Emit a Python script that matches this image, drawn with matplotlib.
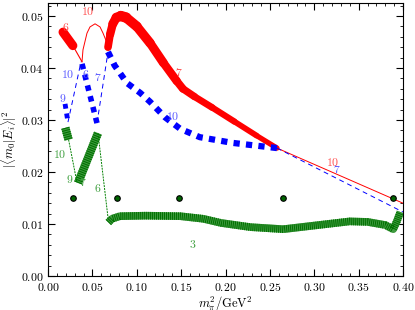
import numpy as np
import matplotlib
matplotlib.use("Agg")
import matplotlib.pyplot as plt
from matplotlib.collections import LineCollection
from matplotlib.ticker import MultipleLocator, FuncFormatter

plt.rcParams['mathtext.fontset'] = 'cm'
plt.rcParams['font.family'] = 'DejaVu Serif'

# red curve (state overlap 1)
red_thick_a_x = [0.0169, 0.028, 0.0383]
red_thick_a_y = [0.0469, 0.0443, 0.0412]
red_arc_x = [0.0383, 0.0394, 0.0439, 0.0473, 0.0530, 0.0586, 0.0620, 0.0665, 0.0676]
red_arc_y = [0.0412, 0.0435, 0.0467, 0.0479, 0.0485, 0.0479, 0.0467, 0.0448, 0.0440]
red_thick_b_x = [0.0676, 0.070, 0.073, 0.077, 0.082, 0.088, 0.100, 0.115, 0.130,
                 0.145, 0.152, 0.165, 0.185, 0.21, 0.235, 0.258]
red_thick_b_y = [0.0440, 0.0465, 0.0485, 0.0497, 0.0500, 0.0497, 0.0480, 0.0448, 0.0410,
                 0.0375, 0.0360, 0.0345, 0.0324, 0.0297, 0.0270, 0.0246]
red_tail_x = [0.258, 0.40]
red_tail_y = [0.0246, 0.0140]

# blue curve
blue_thick = [([0.0192, 0.0225], [0.0331, 0.0296]),
              ([0.0383, 0.0552], [0.0408, 0.0294]),
              ([0.0676, 0.075, 0.089, 0.104, 0.115, 0.132, 0.149, 0.171, 0.208, 0.258],
               [0.0431, 0.0405, 0.0371, 0.0352, 0.0335, 0.0305, 0.0283, 0.0267, 0.0256, 0.0246])]
blue_thin = [([0.0225, 0.0372], [0.0296, 0.0412]),
             ([0.0552, 0.0676], [0.0294, 0.0431]),
             ([0.258, 0.40], [0.0246, 0.0123])]

# green curve
green_thick = [([0.0195, 0.0232], [0.0285, 0.0262]),
               ([0.0338, 0.0563], [0.0179, 0.0275]),
               ([0.068, 0.072, 0.081, 0.11, 0.149, 0.175, 0.195, 0.228, 0.265,
                 0.30, 0.34, 0.36, 0.38, 0.389, 0.393, 0.397],
                [0.0103, 0.0110, 0.0115, 0.0116, 0.0115, 0.0110, 0.0102, 0.0094, 0.0090,
                 0.0097, 0.0105, 0.0104, 0.0098, 0.0090, 0.0105, 0.0123])]
green_thin = [([0.0232, 0.0327], [0.0262, 0.0179]),
              ([0.0563, 0.0676], [0.0275, 0.0112])]

# ensemble points
dots_x = [0.0282, 0.0777, 0.1476, 0.2648, 0.3887]
dots_y = [0.015, 0.015, 0.015, 0.015, 0.015]

# state labels: (x, y, text, colour)
labels = [
    (0.0203, 0.0477, '6', '#ff5050'), (0.045, 0.0508, '10', '#ff5050'),
    (0.147, 0.0392, '7', '#ff5050'),
    (0.0225, 0.0387, '10', '#5a5aff'), (0.043, 0.0387, '6', '#5a5aff'),
    (0.0563, 0.0381, '7', '#5a5aff'), (0.0169, 0.0342, '9', '#5a5aff'),
    (0.141, 0.0306, '10', '#5a5aff'), (0.3256, 0.0204, '7', '#5a5aff'),
    (0.321, 0.0219, '10', '#ff5050'),
    (0.0135, 0.0233, '10', '#40a040'), (0.0248, 0.0185, '9', '#40a040'),
    (0.0394, 0.0179, '7', '#40a040'), (0.0563, 0.0169, '6', '#40a040'),
    (0.163, 0.0060, '3', '#40a040'),
]


def tapered(ax, xs, ys, w0, w1, color):
    pts = np.column_stack([xs, ys])
    segs = np.stack([pts[:-1], pts[1:]], axis=1)
    lc = LineCollection(segs, linewidths=np.linspace(w0, w1, len(segs)),
                        colors=color, capstyle='round', joinstyle='round', zorder=2)
    ax.add_collection(lc)


fig = plt.figure(figsize=(4.15, 3.10), dpi=100)
ax = fig.add_axes([0.1157, 0.1097, 0.8554, 0.8806])

# red
tapered(ax, red_thick_a_x, red_thick_a_y, 6.5, 0.8, 'red')
ax.plot(red_arc_x, red_arc_y, color='red', lw=0.7, zorder=2)
pts = np.column_stack([red_thick_b_x, red_thick_b_y])
segs = np.stack([pts[:-1], pts[1:]], axis=1)
w = np.interp(np.arange(len(segs)), [0, 4, len(segs) - 1], [5.5, 7.5, 3.8])
ax.add_collection(LineCollection(segs, linewidths=w, colors='red',
                                 capstyle='round', joinstyle='round', zorder=2))
ax.plot(red_tail_x, red_tail_y, color='red', lw=0.7, zorder=2)

# blue
for (xs, ys), lw in zip(blue_thick, [3.5, 4.0, 4.5]):
    ax.plot(xs, ys, color='blue', lw=lw, dashes=(1.0, 1.0), zorder=3)
for xs, ys in blue_thin:
    ax.plot(xs, ys, color='blue', lw=0.7, dashes=(5, 4), zorder=3)

# green
for (xs, ys), lw in zip(green_thick, [6.0, 6.0, 5.5]):
    ax.plot(xs, ys, color='#3f9a3f', lw=lw, solid_capstyle='butt', zorder=4)
    ax.plot(xs, ys, color='#007000', lw=lw, dashes=(0.13, 0.13), zorder=4)
for xs, ys in green_thin:
    ax.plot(xs, ys, color='#008000', lw=0.7, dashes=(2, 1), zorder=4)

ax.plot(dots_x, dots_y, 'o', ms=4, mfc='#006400', mec='black', mew=0.8,
        ls='none', zorder=5)

for x, y, t, c in labels:
    ax.text(x, y, '$' + t + '$', color=c, fontsize=8.5, ha='center', va='center',
            zorder=6)

ax.set_xlim(0, 0.40)
ax.set_ylim(0, 0.0525)
ax.xaxis.set_major_locator(MultipleLocator(0.05))
ax.xaxis.set_minor_locator(MultipleLocator(0.01))
ax.yaxis.set_major_locator(MultipleLocator(0.01))
ax.yaxis.set_minor_locator(MultipleLocator(0.002))
fmt = FuncFormatter(lambda v, p: '$%.2f$' % v)
ax.xaxis.set_major_formatter(fmt)
ax.yaxis.set_major_formatter(fmt)
ax.tick_params(which='both', direction='in', top=True, right=True, labelsize=8.5)
ax.tick_params(which='major', length=5, width=0.8)
ax.tick_params(which='minor', length=2.5, width=0.6)
ax.set_xlabel(r'$m_\pi^2/\mathrm{GeV}^2$', fontsize=9, labelpad=0)
ax.set_ylabel(r'$|\langle m_0|E_i\rangle|^2$', fontsize=9, labelpad=1)

fig.savefig('out.png', dpi=100)
